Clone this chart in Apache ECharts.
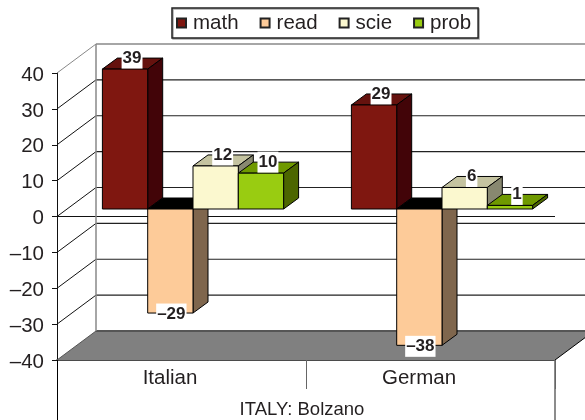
<!DOCTYPE html>
<html>
<head>
<meta charset="utf-8">
<style>html,body{margin:0;padding:0;background:#fff}#c{width:585px;height:420px}</style>
<script src="https://cdn.jsdelivr.net/npm/echarts@6/dist/echarts.min.js"></script>
</head>
<body>
<div id="c"></div>
<script>
const categories = ['Italian', 'German'];
const seriesNames = ['math', 'read', 'scie', 'prob'];
const math = [39, 29];
const read = [-29, -38];
const scie = [12, 6];
const prob = [10, 1];
const yTicks = [40, 30, 20, 10, 0, -10, -20, -30, -40];
const axisTitle = 'ITALY: Bolzano';

const palette = {
  math: { front: '#7f1710', side: '#420408', top: '#65120e' },
  read: { front: '#fdcb99', side: '#7f664d', top: '#000000' },
  scie: { front: '#fbf8cf', side: '#888870', top: '#c4c3a0' },
  prob: { front: '#99cc11', side: '#4c6600', top: '#6f9900' }
};
const FONT = '"Liberation Sans", Arial, sans-serif';
const INK = '#231f20';
const dash = v => String(v).replace('-', '\u2013');

const WALL = { dx: 39, dy: -29 };   // depth of the chart box
const PLANE = { dx: 0.5, dy: -7.5 };  // bar front plane vs. front of box
const DEPTH = { dx: 15, dy: -11 };  // bar depth
const GROUP_SHIFT = 11, BAR_W = 45.3;

function line(x1, y1, x2, y2, stroke, w) {
  return { type: 'line', shape: { x1, y1, x2, y2 }, style: { stroke, lineWidth: w || 1 } };
}
function poly(points, fill) {
  return { type: 'polygon', shape: { points }, style: { fill, stroke: '#000', lineWidth: 1, lineJoin: 'round' } };
}

function renderWalls(params, api) {
  const v = api.value(0);
  const left = params.coordSys.x, right = left + params.coordSys.width;
  const y = api.coord([0, v])[1];
  const bx = left + WALL.dx, by = y + WALL.dy;
  const out = [];
  if (v === yTicks[yTicks.length - 1]) {
    const wallTop = api.coord([0, yTicks[0]])[1] + WALL.dy;
    out.push({ type: 'polygon',
      shape: { points: [[left, y], [bx, by], [right + WALL.dx, by], [right, y]] },
      style: { fill: '#808080', stroke: 'none' } });
    out.push(line(left, y, bx, by, '#555', 1));
    out.push(line(bx, by, right + WALL.dx, by, '#555', 2));
    out.push(line(right, y, right + WALL.dx, by, '#000', 1));
    out.push(line(bx, by, bx, wallTop, '#888', 1.5));
    out.push(line(left + 0.5, y, left + 0.5, 420, '#000', 1));
    out.push(line(right, y, right, 420, '#666', 1.5));
    return { type: 'group', children: out };
  }
  const top = v === yTicks[0];
  out.push(line(left, y, bx, by, top ? '#888' : '#111', 1));
  out.push(line(bx, by, right + WALL.dx, by, top ? '#888' : '#222', top ? 1.5 : 1.2));
  if (v === 0) out.push(line(left, y, right, y, '#111', 1.2));
  return { type: 'group', children: out };
}

function makeBar(barIdx, name) {
  const col = palette[name];
  return function (params, api) {
    const cat = api.value(0), val = api.value(1);
    const c = api.coord([cat, val]), z = api.coord([cat, 0]);
    const x0 = c[0] + GROUP_SHIFT + (barIdx - 2) * BAR_W + PLANE.dx;
    const x1 = x0 + BAR_W;
    const yV = c[1] + PLANE.dy, y0 = z[1] + PLANE.dy;
    const yT = Math.min(yV, y0), yB = Math.max(yV, y0);
    const d = DEPTH;
    const lblX = val >= 0 ? (x0 + x1) / 2 + 7 : (x0 + x1) / 2 + 1;
    const lblY = val >= 0 ? yV - 11 : yV + 1;
    return { type: 'group', children: [
      poly([[x0, yT], [x1, yT], [x1 + d.dx, yT + d.dy], [x0 + d.dx, yT + d.dy]], col.top),
      poly([[x1, yT], [x1 + d.dx, yT + d.dy], [x1 + d.dx, yB + d.dy], [x1, yB]], col.side),
      poly([[x0, yT], [x1, yT], [x1, yB], [x0, yB]], col.front),
      { type: 'text', z2: 1000, style: {
          x: lblX, y: lblY, text: dash(val), align: 'center', verticalAlign: 'middle',
          font: 'bold 17px ' + FONT, fill: INK, backgroundColor: '#fff', padding: [2, 1, 2, 1] } }
    ]};
  };
}

const valuesByName = { math, read, scie, prob };
const barSeries = seriesNames.map((name, i) => ({
  name, type: 'custom', renderItem: makeBar(i, name),
  encode: { x: 0, y: 1 }, clip: false,
  itemStyle: { color: palette[name].front, borderColor: '#222', borderWidth: 1 },
  data: valuesByName[name].map((v, k) => [k, v])
}));

const chart = echarts.init(document.getElementById('c'), null, { renderer: 'canvas' });
chart.setOption({
  animation: false,
  backgroundColor: '#fff',
  grid: { left: 57, right: 30, top: 73, bottom: 60, containLabel: false, outerBoundsMode: 'none' },
  legend: {
    data: seriesNames, left: 172, top: 8, padding: [4, 7, 4, 4], itemGap: 21,
    itemWidth: 9, itemHeight: 9, icon: 'rect', selectedMode: false,
    backgroundColor: '#fff', borderColor: '#222', borderWidth: 1.5,
    shadowColor: '#aaa', shadowOffsetX: 1, shadowOffsetY: 1, shadowBlur: 0,
    textStyle: { fontFamily: FONT, fontSize: 20.5, lineHeight: 20, color: INK, padding: [2, 0, 0, 2] }
  },
  xAxis: {
    type: 'category', data: categories, position: 'bottom',
    axisLine: { onZero: false, lineStyle: { color: '#111', width: 1.5 } },
    axisTick: { show: true, length: 29, lineStyle: { color: '#666', width: 1 } },
    axisLabel: { margin: 8, fontFamily: FONT, fontSize: 20.5, color: INK, padding: [0, 23, 0, 0] },
    name: axisTitle, nameLocation: 'middle', nameGap: 40,
    nameTextStyle: { fontFamily: FONT, fontSize: 18.5, color: INK, padding: [0, 8, 0, 0] },
    splitLine: { show: false }
  },
  yAxis: {
    type: 'value', min: -40, max: 40, interval: 10,
    axisLine: { show: true, onZero: false, lineStyle: { color: '#111' } },
    axisTick: { show: true, length: 5, lineStyle: { color: '#111' } },
    axisLabel: { margin: 13, fontFamily: FONT, fontSize: 20.5, color: INK, verticalAlign: 'top', lineHeight: 4, formatter: v => dash(v) },
    splitLine: { show: false }
  },
  series: [{
    type: 'custom', name: 'walls', renderItem: renderWalls, silent: true, clip: false, z: 1,
    encode: { y: 0 }, data: yTicks.map(v => [v])
  }].concat(barSeries)
});
</script>
</body>
</html>
